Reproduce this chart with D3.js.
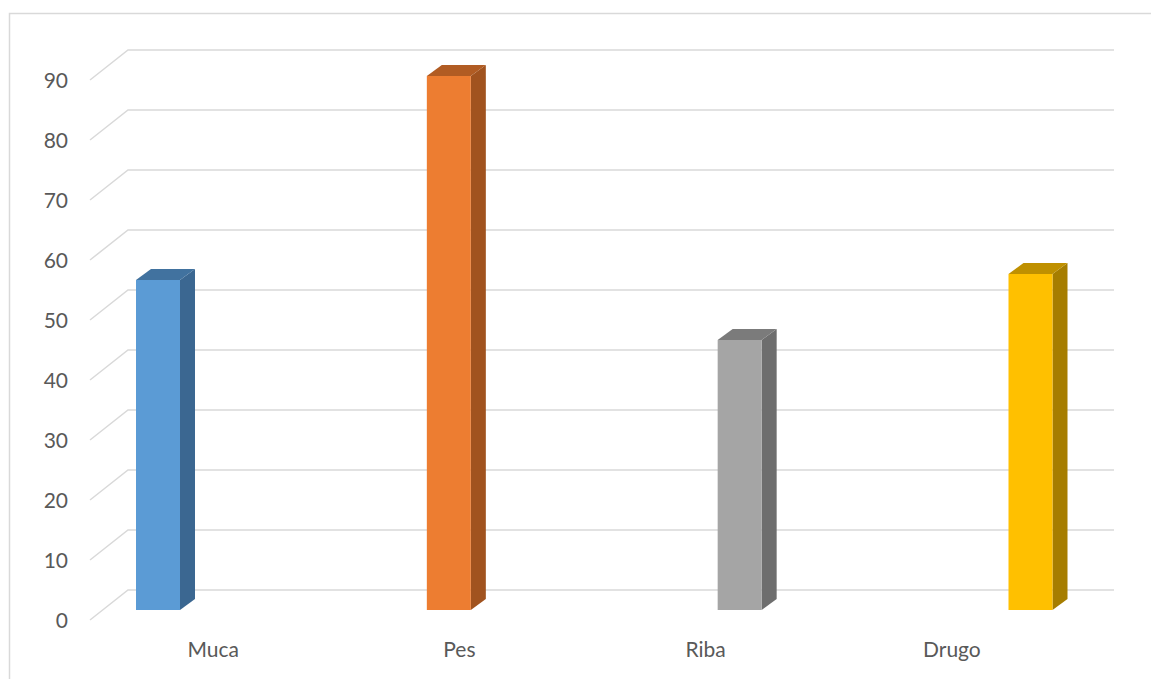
<!DOCTYPE html>
<html>
<head>
<meta charset="utf-8">
<script src="https://cdn.jsdelivr.net/npm/d3@7/dist/d3.min.js"></script>
<style>
  html, body { margin: 0; padding: 0; background: #fff; }
  svg { display: block; }
  text { font-family: Lato, "Open Sans", sans-serif; fill: #595959; }
</style>
</head>
<body>
<svg id="chart" width="1151" height="679"></svg>
<script>
const categories = ["Muca", "Pes", "Riba", "Drugo"];
const values = [55, 89, 45, 56];
const tickValues = [0, 10, 20, 30, 40, 50, 60, 70, 80, 90];
const frontColors = ["#5B9BD5", "#ED7D31", "#A5A5A5", "#FFC000"];
const sideColors = ["#3B6791", "#A1531F", "#6E6E6E", "#A67D00"];
const topColors = ["#41729F", "#B15C23", "#7B7B7B", "#BF9000"];

const svg = d3.select("#chart");

// chart border
svg.append("rect")
  .attr("x", 9.5).attr("y", 13.5)
  .attr("width", 1160).attr("height", 700)
  .attr("fill", "none").attr("stroke", "#d9d9d9").attr("stroke-width", 1.5);

// scales
const yGrid = d3.scaleLinear().domain([0, 90]).range([620, 80]);   // front edge of floor/wall
const yBar = d3.scaleLinear().domain([0, 90]).range([610, 70]);    // bar front face
const depthDx = 38, depthDy = -30;     // wall depth
const barDx = 15, barDy = -11;         // bar depth
const gridLeft = 90, gridRight = 1114;

const xLabel = d3.scaleBand().domain(categories).range([90, 1075]);
const xBar = d3.scalePoint().domain(categories).range([158, 1030.5]);
const barW = 44;

// gridlines
const grid = svg.append("g");
grid.selectAll("path").data(tickValues).enter().append("path")
  .attr("d", d => {
    const y = yGrid(d);
    return `M${gridLeft},${y} L${gridLeft + depthDx},${y + depthDy} L${gridRight},${y + depthDy}`;
  })
  .attr("fill", "none").attr("stroke", "#d9d9d9").attr("stroke-width", 1.5);

// y tick labels
svg.append("g").selectAll("text").data(tickValues).enter().append("text")
  .attr("x", 68).attr("y", d => yGrid(d))
  .attr("dy", "0.36em")
  .attr("text-anchor", "end")
  .attr("font-size", 21)
  .text(d => d);

// bars
const bars = svg.append("g").selectAll("g").data(categories).enter().append("g");
bars.each(function(c, i) {
  const g = d3.select(this);
  const x0 = xBar(c) - barW / 2, x1 = xBar(c) + barW / 2;
  const yt = yBar(values[i]), yb = yBar(0);
  g.append("path")
    .attr("d", `M${x1},${yt} L${x1 + barDx},${yt + barDy} L${x1 + barDx},${yb + barDy} L${x1},${yb} Z`)
    .attr("fill", sideColors[i]);
  g.append("path")
    .attr("d", `M${x0},${yt} L${x0 + barDx},${yt + barDy} L${x1 + barDx},${yt + barDy} L${x1},${yt} Z`)
    .attr("fill", topColors[i]);
  g.append("rect")
    .attr("x", x0).attr("y", yt).attr("width", barW).attr("height", yb - yt)
    .attr("fill", frontColors[i]);
});

// category labels
svg.append("g").selectAll("text").data(categories).enter().append("text")
  .attr("x", d => xLabel(d) + xLabel.bandwidth() / 2)
  .attr("y", 657)
  .attr("text-anchor", "middle")
  .attr("font-size", 21)
  .text(d => d);
</script>
</body>
</html>
